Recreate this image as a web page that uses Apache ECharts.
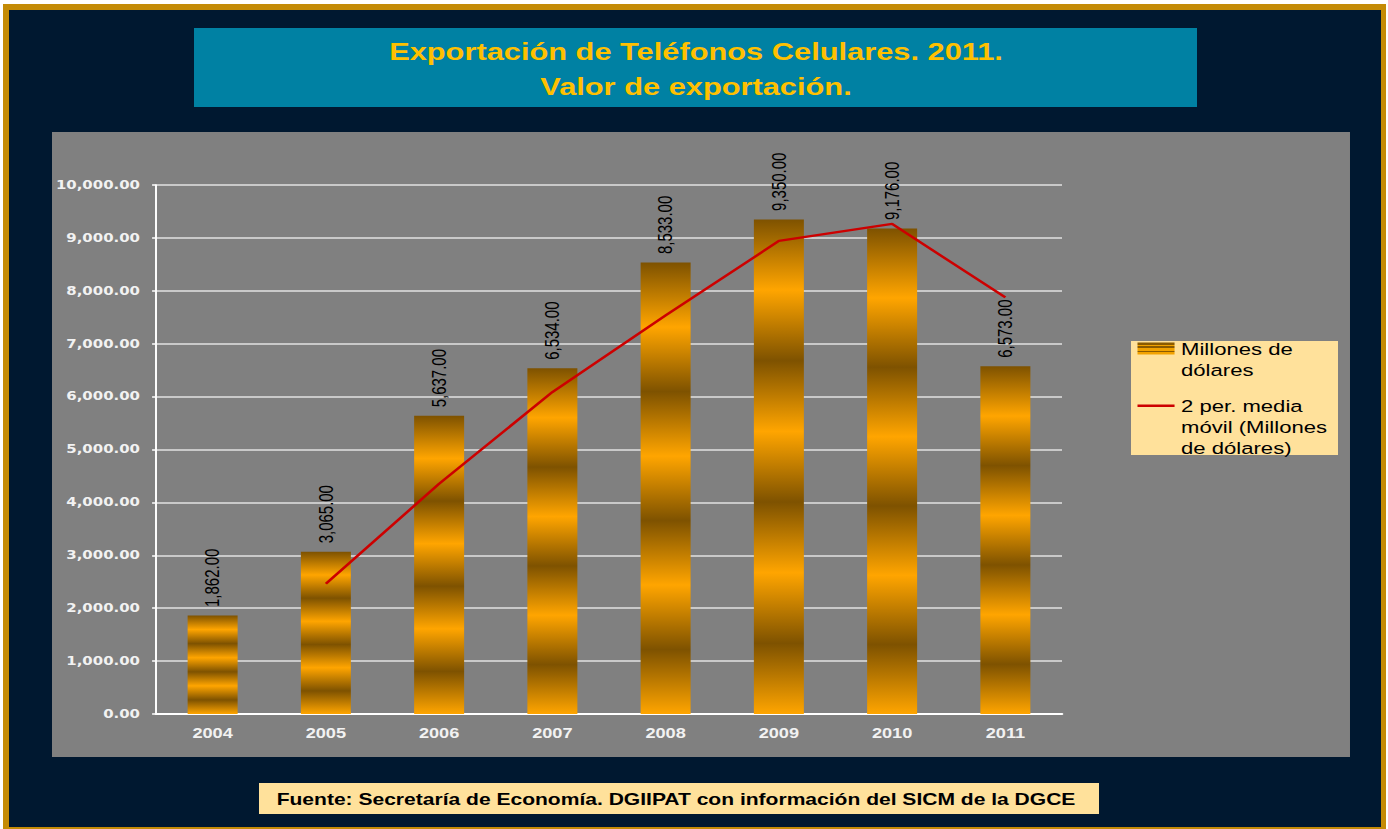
<!DOCTYPE html>
<html><head><meta charset="utf-8">
<script src="https://cdn.jsdelivr.net/npm/echarts@6/dist/echarts.min.js"></script>
<style>
html,body{margin:0;padding:0;background:#ffffff;overflow:hidden;}
#c{height:829px;transform-origin:0 0;}
</style></head><body><div id="c"></div>
<script>
// ---- data ----
const years = ['2004', '2005', '2006', '2007', '2008', '2009', '2010', '2011'];
const exportValues = [1862, 3065, 5637, 6534, 8533, 9350, 9176, 6573];
const movingAverage = [null, 2463.5, 4351, 6085.5, 7533.5, 8941.5, 9263, 7874.5];
const yMin = 0, yMax = 10000, yInterval = 1000;
const seriesNames = ['Millones de dólares', '2 per. media móvil (Millones de dólares)'];
const legendLabels = ['Millones de\ndólares', '2 per. media\nmóvil (Millones\nde dólares)'];
const titleLines = ['Exportación de Teléfonos Celulares. 2011.', 'Valor de exportación.'];
const sourceText = 'Fuente: Secretaría de Economía. DGIIPAT con información del SICM de la DGCE';

// ---- layout (horizontal stretch of the original picture) ----
const S = 1.3;
const W = 1388 / S;
const X = v => v / S;
const dom = document.getElementById('c');
dom.style.width = W + 'px';
dom.style.transform = 'scaleX(' + S + ')';

const BROWN = '#7E5200', ORANGE = '#FFA500';
const barStops = [];
for (let k = 0; k <= 7; k++) barStops.push({ offset: k / 7, color: k % 2 ? ORANGE : BROWN });
const barGradient = { type: 'linear', x: 0, y: 0, x2: 0, y2: 1, colorStops: barStops };

const IW = 28.5, IH = 44.5;
const r0 = 5.75, r1 = 17.75;
const iconStops = [];
const NS = 6;
for (let k = 0; k < NS; k++) {
  const c = k % 2 ? '#F2A200' : '#8A5A00';
  iconStops.push({ offset: k / NS, color: c });
  iconStops.push({ offset: (k + 1) / NS, color: c });
}
const barIcon = 'path://M0,0 L0,0 M0,' + IH + ' L0,' + IH + ' M0,' + r0 + ' L' + IW + ',' + r0 + ' L' + IW + ',' + r1 + ' L0,' + r1 + ' Z';
const lineIcon = 'path://M0,0 L' + IW + ',0 L' + IW + ',2.5 L0,2.5 Z M0,' + IH + ' L0,' + IH;

const fmt = v => Number(v).toLocaleString('en-US', { minimumFractionDigits: 2, maximumFractionDigits: 2 });
const FONT = '"Liberation Sans", Arial, sans-serif';

const chart = echarts.init(dom, null, { renderer: 'svg', width: W, height: 829 });
chart.setOption({
  animation: false,
  backgroundColor: 'transparent',
  graphic: { elements: [
    { type: 'rect', z: -100, silent: true, shape: { x: X(3), y: 4, width: X(1383), height: 825 }, style: { fill: '#C48B06' } },
    { type: 'rect', z: -99, silent: true, shape: { x: X(9), y: 10, width: X(1372), height: 817 }, style: { fill: '#001830' } },
    { type: 'rect', z: -98, silent: true, shape: { x: X(194), y: 28, width: X(1003), height: 79 }, style: { fill: '#0081A3' } },
    { type: 'rect', z: -98, silent: true, shape: { x: X(52), y: 132, width: X(1298), height: 625 }, style: { fill: '#808080' } },
    { type: 'rect', z: -97, silent: true, shape: { x: X(1131), y: 341, width: X(207), height: 114 }, style: { fill: '#FFE19B' } },
    { type: 'rect', z: -97, silent: true, shape: { x: X(259), y: 783, width: X(840), height: 31 }, style: { fill: '#FFE19B' } },
    { type: 'text', z: 100, silent: true, x: X(696), y: 34,
      style: { text: titleLines.join('\n'), fill: '#FFC000', fontSize: 23.7, fontWeight: 'bold', fontFamily: FONT,
               align: 'center', verticalAlign: 'top', lineHeight: 35 } },
    { type: 'text', z: 100, silent: true, x: X(676), y: 799,
      style: { text: sourceText, fill: '#000000', fontSize: 16.2, fontWeight: 'bold', fontFamily: FONT,
               align: 'center', verticalAlign: 'middle' } }
  ] },
  grid: { left: X(156), top: 185, width: X(906), height: 529, containLabel: false },
  legend: {
    orient: 'vertical', left: X(1137.5), top: 336.75, padding: 0, itemGap: 14,
    itemWidth: IW, itemHeight: IH, selectedMode: false,
    textStyle: { fontSize: 17, lineHeight: 21, color: '#000000', fontFamily: FONT },
    formatter: name => legendLabels[seriesNames.indexOf(name)],
    data: [
      { name: seriesNames[0], icon: barIcon, itemStyle: { color: { type: 'linear', x: 0, y: 0, x2: 0, y2: 1, colorStops: iconStops }, borderWidth: 0 } },
      { name: seriesNames[1], icon: lineIcon, itemStyle: { color: '#CC0000', borderWidth: 0 } }
    ]
  },
  xAxis: {
    type: 'category', data: years,
    axisLine: { show: true, lineStyle: { color: '#ffffff', width: 2 } },
    axisTick: { show: false },
    axisLabel: { color: '#F2F2F2', fontSize: 14, fontWeight: 'bold', fontFamily: FONT, margin: 12 },
    splitLine: { show: false }
  },
  yAxis: {
    type: 'value', min: yMin, max: yMax, interval: yInterval,
    axisLine: { show: true, lineStyle: { color: '#ffffff', width: 1.5 } },
    axisTick: { show: true, length: 3, lineStyle: { color: '#ffffff', width: 1.5 } },
    axisLabel: { color: '#F2F2F2', fontSize: 11.5, fontWeight: 'bold', fontFamily: '"DejaVu Sans", Verdana, sans-serif', margin: 12.3, formatter: fmt },
    splitLine: { show: true, lineStyle: { color: '#E2E2E2', width: 1.5 } }
  },
  series: [
    { name: seriesNames[0], type: 'bar', data: exportValues, barWidth: X(50),
      itemStyle: { color: barGradient },
      label: { show: true, position: 'top', rotate: 90, align: 'left', verticalAlign: 'middle', distance: 8.5,
               fontSize: 15, color: '#000000', fontFamily: FONT, formatter: p => fmt(p.value) },
      emphasis: { disabled: true }, silent: true },
    { name: seriesNames[1], type: 'line', data: movingAverage, symbol: 'none', showSymbol: false, z: 3,
      lineStyle: { color: '#CC0000', width: 2.3 }, itemStyle: { color: '#CC0000' },
      emphasis: { disabled: true }, silent: true }
  ]
});
</script></body></html>
